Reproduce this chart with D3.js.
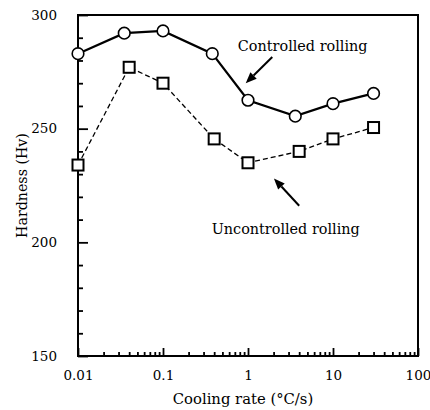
<!DOCTYPE html>
<html>
<head>
<meta charset="utf-8">
<script src="https://cdn.jsdelivr.net/npm/d3@7/dist/d3.min.js"></script>
<style>
  html, body { margin: 0; padding: 0; background: #fff; }
  svg { display: block; }
  text { font-family: "DejaVu Serif", serif; fill: #000; }
</style>
</head>
<body>
<svg id="chart" width="430" height="410"></svg>
<script>
// Cooling rate (°C/s) for each series
const controlledRate   = [0.01, 0.035, 0.1, 0.38, 1, 3.6, 10, 30];
const uncontrolledRate = [0.01, 0.04, 0.1, 0.4, 1, 4, 10, 30];
// Hardness (Hv)
const controlledHv   = [283, 292, 293, 283, 262.5, 255.5, 261, 265.5];
const uncontrolledHv = [234, 277, 270, 245.5, 235, 240, 245.5, 250.5];
// Axis ticks
const xTicks = [0.01, 0.1, 1, 10, 100];
const xTickLabels = ["0.01", "0.1", "1", "10", "100"];
const yTicks = [150, 200, 250, 300];
// Annotation anchors, in data units: [rate, hardness]
const labelNames = ["Controlled rolling", "Uncontrolled rolling"];
const labelPos = [[0.76, 284.2], [0.374, 203.6]];
const arrowFrom = [[1.93, 281.5], [4.0, 216.1]];
const arrowTo   = [[0.94, 270.0], [2.02, 228.1]];

const FONT = "DejaVu Serif, serif";
const svg = d3.select("#chart");
const x = d3.scaleLog().domain([0.01, 100]).range([78, 418]);
const y = d3.scaleLinear().domain([150, 300]).range([356, 15]);

// minor tick positions 2..9 in each decade
const xMinor = [];
for (let d = 0.01; d < 100; d *= 10) {
  for (let k = 2; k <= 9; k++) xMinor.push(+(d * k).toPrecision(3));
}
const yMinor = d3.range(150, 301, 10).filter(v => v % 50 !== 0);

function styleAxis(g) {
  g.select(".domain").remove();
  g.selectAll(".tick line").attr("stroke", "#000").attr("stroke-width", 1.8);
  g.selectAll("text").attr("font-family", FONT)
    .attr("font-size", 13.5).attr("fill", "#000");
}

// bottom axis: major ticks with labels, minor ticks without
svg.append("g").attr("transform", "translate(0,356)")
  .call(d3.axisBottom(x).tickValues(xTicks)
    .tickFormat((d, i) => xTickLabels[i]).tickSizeInner(-8).tickSizeOuter(0).tickPadding(14))
  .call(styleAxis);
svg.append("g").attr("transform", "translate(0,356)")
  .call(d3.axisBottom(x).tickValues(xMinor).tickFormat("").tickSizeInner(-4).tickSizeOuter(0))
  .call(styleAxis);

// left axis
svg.append("g").attr("transform", "translate(78,0)")
  .call(d3.axisLeft(y).tickValues(yTicks).tickFormat(d3.format("d"))
    .tickSizeInner(-10).tickSizeOuter(0).tickPadding(21))
  .call(styleAxis);
svg.append("g").attr("transform", "translate(78,0)")
  .call(d3.axisLeft(y).tickValues(yMinor).tickFormat("").tickSizeInner(-5).tickSizeOuter(0))
  .call(styleAxis);

// frame
svg.append("rect")
  .attr("x", x.range()[0]).attr("y", y.range()[1])
  .attr("width", x.range()[1] - x.range()[0])
  .attr("height", y.range()[0] - y.range()[1])
  .attr("fill", "none").attr("stroke", "#000").attr("stroke-width", 2);

// axis titles
svg.append("text")
  .attr("x", 243).attr("y", 404).attr("text-anchor", "middle")
  .attr("font-size", 14.8).text("Cooling rate (°C/s)");
svg.append("text")
  .attr("transform", `translate(27,${(y.range()[0] + y.range()[1]) / 2}) rotate(-90)`)
  .attr("text-anchor", "middle").attr("font-size", 14.2).text("Hardness (Hv)");

// series lines
const lineC = d3.line().x((d, i) => x(controlledRate[i])).y(d => y(d));
const lineU = d3.line().x((d, i) => x(uncontrolledRate[i])).y(d => y(d));

svg.append("path").datum(uncontrolledHv).attr("d", lineU)
  .attr("fill", "none").attr("stroke", "#000").attr("stroke-width", 1.3)
  .attr("stroke-dasharray", "5,3");
svg.append("path").datum(controlledHv).attr("d", lineC)
  .attr("fill", "none").attr("stroke", "#000").attr("stroke-width", 2.2);

// markers
const sq = 11;
svg.append("g").selectAll("rect").data(uncontrolledHv).join("rect")
  .attr("x", (d, i) => x(uncontrolledRate[i]) - sq / 2)
  .attr("y", d => y(d) - sq / 2)
  .attr("width", sq).attr("height", sq)
  .attr("fill", "#fff").attr("stroke", "#000").attr("stroke-width", 2);
svg.append("g").selectAll("circle").data(controlledHv).join("circle")
  .attr("cx", (d, i) => x(controlledRate[i]))
  .attr("cy", d => y(d))
  .attr("r", 5.8)
  .attr("fill", "#fff").attr("stroke", "#000").attr("stroke-width", 1.6);

// annotations
labelNames.forEach((name, i) => {
  svg.append("text")
    .attr("x", x(labelPos[i][0])).attr("y", y(labelPos[i][1]))
    .attr("font-size", 14.4).text(name);
});

arrowFrom.forEach((from, i) => {
  const x0 = x(from[0]), y0 = y(from[1]);
  const x1 = x(arrowTo[i][0]), y1 = y(arrowTo[i][1]);
  const ang = Math.atan2(y1 - y0, x1 - x0);
  const headLen = 11, headHalf = 4.5;
  const bx = x1 - headLen * Math.cos(ang), by = y1 - headLen * Math.sin(ang);
  svg.append("line")
    .attr("x1", x0).attr("y1", y0).attr("x2", bx).attr("y2", by)
    .attr("stroke", "#000").attr("stroke-width", 2);
  const px = -Math.sin(ang) * headHalf, py = Math.cos(ang) * headHalf;
  svg.append("path")
    .attr("d", `M${x1},${y1}L${bx + px},${by + py}L${bx - px},${by - py}Z`)
    .attr("fill", "#000");
});
</script>
</body>
</html>
